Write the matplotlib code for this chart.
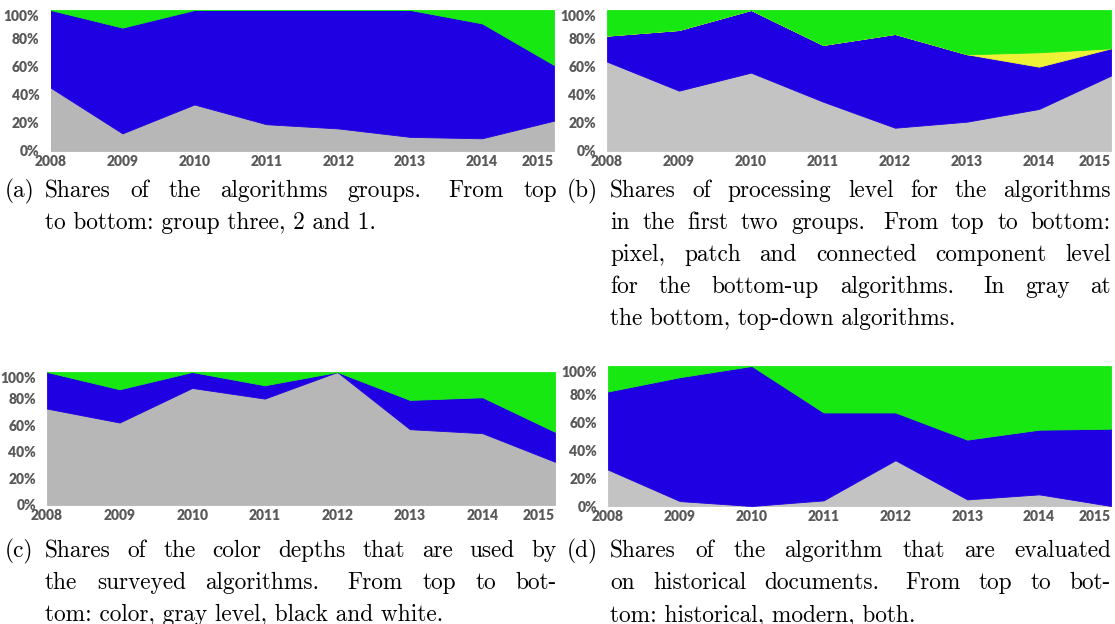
import matplotlib
matplotlib.use("Agg")
import matplotlib.pyplot as plt
import matplotlib.transforms as mtransforms

W, H = 1115, 624
DPI = 100

years = [2008, 2009, 2010, 2011, 2012, 2013, 2014, 2015]
pct_ticks = [0, 20, 40, 60, 80, 100]
pct_labels = ["0%", "20%", "40%", "60%", "80%", "100%"]

# (a) algorithm groups, bottom to top
group_one = [45, 12.5, 33, 19, 16, 10, 9, 21.5]
group_two = [55, 75, 67, 81, 84, 90, 81.5, 39.5]
group_three = [0, 12.5, 0, 0, 0, 0, 9.5, 39]

# (b) processing level, bottom to top
top_down = [63.4, 42.8, 55.6, 35, 16.5, 20.8, 29.8, 53.5]
cc_level = [18.4, 43, 44.4, 40.2, 66.5, 47.8, 30, 19.3]
patch_level = [0, 0, 0, 0, 0, 0, 10.2, 0]
pixel_level = [18.2, 14.2, 0, 24.8, 17, 31.4, 30, 27.2]

# (c) colour depth, bottom to top
black_white = [72.5, 62, 88, 80, 100, 57, 54, 32.5]
gray_level = [27.5, 25, 12, 10, 0, 22, 27, 22.5]
color_depth = [0, 13, 0, 10, 0, 21, 19, 45]

# (d) evaluation documents, bottom to top
both_docs = [26, 3.5, 0, 4, 32.7, 4.7, 8.3, 0]
modern_docs = [55.8, 88.5, 100, 62.8, 34.1, 42.7, 46.2, 55.2]
historical_docs = [18.2, 8, 0, 33.2, 33.2, 52.6, 45.5, 44.8]

captions = {
    "a": ["Shares of the algorithms groups. From top",
          "to bottom: group three, 2 and 1."],
    "b": ["Shares of processing level for the algorithms",
          "in the first two groups. From top to bottom:",
          "pixel, patch and connected component level",
          "for the bottom-up algorithms. In gray at",
          "the bottom, top-down algorithms."],
    "c": ["Shares of the color depths that are used by",
          "the surveyed algorithms. From top to bot-",
          "tom: color, gray level, black and white."],
    "d": ["Shares of the algorithm that are evaluated",
          "on historical documents. From top to bot-",
          "tom: historical, modern, both."],
}

GREEN = "#17e811"
BLUE = "#1f00e3"
YELLOW = "#eef236"
GRAY_AC = "#b7b7b7"
GRAY_BD = "#c3c3c3"
TICK_COLOR = "#595959"

fig = plt.figure(figsize=(W / DPI, H / DPI), dpi=DPI)
fig.patch.set_facecolor("white")


def px_axes(x0, y0, x1, y1):
    # pixel box (top-left origin) -> figure fraction
    return fig.add_axes([x0 / W, 1 - y1 / H, (x1 - x0) / W, (y1 - y0) / H])


def area_panel(ax, layers, colors):
    ax.stackplot(years, *layers, colors=colors, linewidth=0.6,
                 edgecolor="face")
    ax.set_xlim(years[0], years[-1])
    ax.set_ylim(0, 100)
    ax.set_xticks(years)
    ax.set_xticklabels([str(y) for y in years])
    ax.set_yticks(pct_ticks)
    ax.set_yticklabels(pct_labels)
    for s in ax.spines.values():
        s.set_visible(False)
    ax.tick_params(length=0, colors=TICK_COLOR, labelsize=10)
    ax.tick_params(axis="y", pad=8)
    ax.tick_params(axis="x", pad=3)
    for lab in ax.get_xticklabels() + ax.get_yticklabels():
        lab.set_fontfamily("Lato")
        lab.set_fontweight("heavy")
    ax.get_xticklabels()[-1].set_horizontalalignment("right")
    ax.get_yticklabels()[-1].set_verticalalignment("top")


ax_a = px_axes(50.5, 10, 554, 151)
area_panel(ax_a, [group_one, group_two, group_three],
           [GRAY_AC, BLUE, GREEN])

ax_b = px_axes(607, 10, 1111, 151)
area_panel(ax_b, [top_down, cc_level, patch_level, pixel_level],
           [GRAY_BD, BLUE, YELLOW, GREEN])

ax_c = px_axes(47, 372, 555, 505)
area_panel(ax_c, [black_white, gray_level, color_depth],
           [GRAY_AC, BLUE, GREEN])

ax_d = px_axes(608, 366, 1111, 506)
area_panel(ax_d, [both_docs, modern_docs, historical_docs],
           [GRAY_BD, BLUE, GREEN])

# captions, justified like the LaTeX subcaptions
CAP_FONT = dict(family="cmr10", size=16.8, color="black")
pix = mtransforms.IdentityTransform()
fig.canvas.draw()
renderer = fig.canvas.get_renderer()


def put_caption(tag, lines, x_tag, x0, x1, y_first, pitch=32):
    fig.text(x_tag, H - y_first, "(%s)" % tag, transform=pix,
             va="baseline", ha="left", **CAP_FONT)
    for i, line in enumerate(lines):
        y = H - (y_first + i * pitch)
        if i == len(lines) - 1:
            fig.text(x0, y, line, transform=pix, va="baseline", ha="left",
                     **CAP_FONT)
            continue
        words = line.split()
        texts = [fig.text(0, y, w, transform=pix, va="baseline", ha="left",
                          **CAP_FONT) for w in words]
        widths = [t.get_window_extent(renderer).width for t in texts]
        weights = [1.4 if w.endswith(".") else 1.0 for w in words[:-1]]
        gap = (x1 - x0 - sum(widths)) / sum(weights)
        x = x0
        for k, t in enumerate(texts):
            t.set_x(x)
            if k < len(weights):
                x += widths[k] + gap * weights[k]


put_caption("a", captions["a"], 5, 45, 557, 197)
put_caption("b", captions["b"], 567, 610, 1111, 197)
put_caption("c", captions["c"], 5, 45, 557, 557)
put_caption("d", captions["d"], 567, 610, 1111, 557)

fig.savefig("out.png", dpi=DPI, facecolor="white")
